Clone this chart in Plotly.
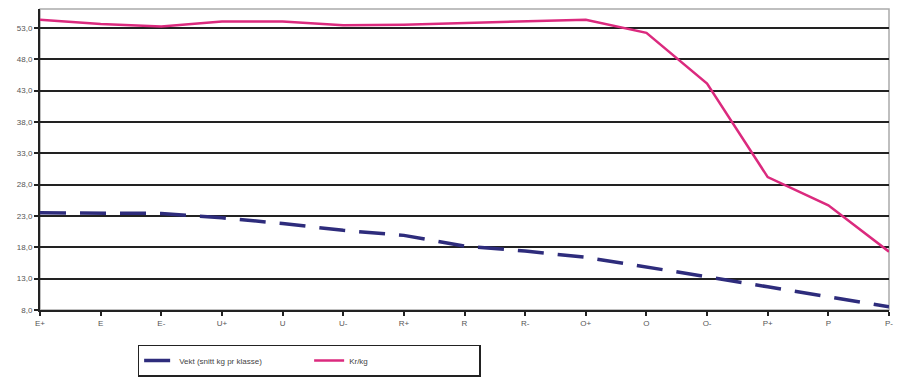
import plotly.graph_objects as go

klasser = ["E+", "E", "E-", "U+", "U", "U-", "R+", "R", "R-", "O+", "O", "O-", "P+", "P", "P-"]

vekt = [23.5, 23.5, 23.4, 22.7, 21.8, 20.7, 19.9, 18.2, 17.4, 16.4, 14.9, 13.3, 11.7, 10.1, 8.5]
kr_kg = [54.3, 53.6, 53.2, 54.0, 54.0, 53.4, 53.5, 53.8, 54.0, 54.3, 52.2, 44.1, 29.2, 24.7, 17.3]

y_ticks = [8, 13, 18, 23, 28, 33, 38, 43, 48, 53]
y_labels = ["8,0", "13,0", "18,0", "23,0", "28,0", "33,0", "38,0", "43,0", "48,0", "53,0"]

fig = go.Figure()

fig.add_trace(
    go.Scatter(
        x=klasser,
        y=vekt,
        mode="lines",
        name="Vekt (snitt kg pr klasse)",
        line=dict(color="#2E2C7C", width=3.5, dash="26px,14px")
    )
)

fig.add_trace(
    go.Scatter(
        x=klasser,
        y=kr_kg,
        mode="lines",
        name="Kr/kg",
        line=dict(color="#DB2A7E", width=2.5)
    )
)

# the page body has an 8px margin, so keep the figure inside the window
fig.update_layout(
    width=886,
    height=373,
    margin=dict(l=32, r=5, t=1, b=71, autoexpand=False),
    paper_bgcolor="white",
    plot_bgcolor="white",
    font=dict(family="Liberation Sans, Arial, sans-serif", size=8, color="#555555"),
    showlegend=True,
    legend=dict(
        orientation="h",
        x=0.115,
        y=-0.115,
        xanchor="left",
        yanchor="top",
        bordercolor="#222222",
        borderwidth=1.5,
        font=dict(size=8, color="#444444"),
        entrywidth=125,
        tracegroupgap=0
    ),
    xaxis=dict(
        type="category",
        range=[0, 14],
        automargin=False,
        showgrid=False,
        showline=True,
        linecolor="#222222",
        linewidth=2,
        ticks="outside",
        ticklen=4,
        tickwidth=1.5,
        tickcolor="#222222",
        zeroline=False
    ),
    yaxis=dict(
        range=[8, 56],
        automargin=False,
        tickvals=y_ticks,
        ticktext=y_labels,
        showgrid=True,
        gridcolor="#222222",
        gridwidth=2,
        showline=True,
        linecolor="#222222",
        linewidth=2,
        ticks="outside",
        ticklen=4,
        tickwidth=1.5,
        tickcolor="#222222",
        zeroline=False
    ),
    shapes=[
        dict(
            type="rect", xref="paper", yref="paper",
            x0=0, x1=1, y0=0, y1=1,
            line=dict(color="#AAAAAA", width=1.5),
            layer="below"
        )
    ]
)

fig.write_html("out.html")
